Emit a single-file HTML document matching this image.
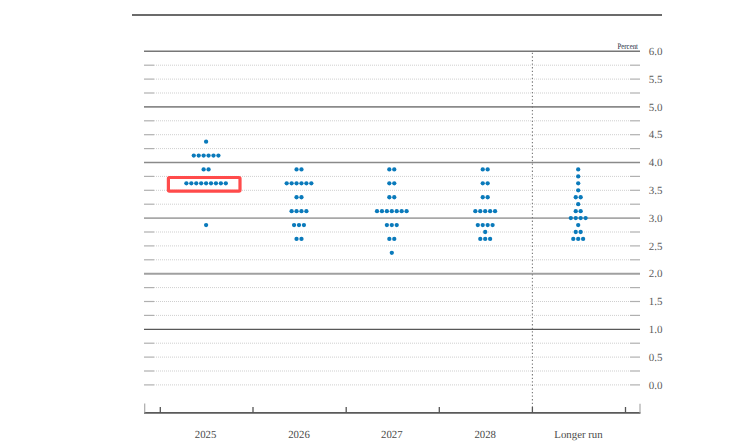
<!DOCTYPE html>
<html><head><meta charset="utf-8"><style>
html,body{margin:0;padding:0;background:#fff;width:750px;height:448px;overflow:hidden;position:relative}
text{font-family:"Liberation Serif",serif;text-rendering:geometricPrecision}
.yl{font-size:11px;fill:#5c5c5c}
.xl{font-size:10.8px;fill:#4a4a4a}
.pc{font-size:8.3px;fill:#222a40}
</style></head><body>
<svg width="750" height="448" viewBox="0 0 750 448" style="position:absolute;left:0;top:0">
<rect x="132" y="14" width="530" height="2" fill="#6b6b6b"/>
<line x1="144" y1="51.30" x2="640" y2="51.30" stroke="#777" stroke-width="1.5"/>
<line x1="144" y1="65.20" x2="154" y2="65.20" stroke="#b0b0b0" stroke-width="1.2"/>
<line x1="630" y1="65.20" x2="640" y2="65.20" stroke="#b0b0b0" stroke-width="1.2"/>
<line x1="154" y1="65.20" x2="630" y2="65.20" stroke="#cfcfcf" stroke-width="1" stroke-dasharray="1 1"/>
<line x1="144" y1="79.10" x2="154" y2="79.10" stroke="#b0b0b0" stroke-width="1.2"/>
<line x1="630" y1="79.10" x2="640" y2="79.10" stroke="#b0b0b0" stroke-width="1.2"/>
<line x1="154" y1="79.10" x2="630" y2="79.10" stroke="#cfcfcf" stroke-width="1" stroke-dasharray="1 1"/>
<line x1="144" y1="93.00" x2="154" y2="93.00" stroke="#b0b0b0" stroke-width="1.2"/>
<line x1="630" y1="93.00" x2="640" y2="93.00" stroke="#b0b0b0" stroke-width="1.2"/>
<line x1="154" y1="93.00" x2="630" y2="93.00" stroke="#cfcfcf" stroke-width="1" stroke-dasharray="1 1"/>
<line x1="144" y1="106.90" x2="640" y2="106.90" stroke="#8a8a8a" stroke-width="1.7"/>
<line x1="144" y1="120.80" x2="154" y2="120.80" stroke="#b0b0b0" stroke-width="1.2"/>
<line x1="630" y1="120.80" x2="640" y2="120.80" stroke="#b0b0b0" stroke-width="1.2"/>
<line x1="154" y1="120.80" x2="630" y2="120.80" stroke="#cfcfcf" stroke-width="1" stroke-dasharray="1 1"/>
<line x1="144" y1="134.70" x2="154" y2="134.70" stroke="#b0b0b0" stroke-width="1.2"/>
<line x1="630" y1="134.70" x2="640" y2="134.70" stroke="#b0b0b0" stroke-width="1.2"/>
<line x1="154" y1="134.70" x2="630" y2="134.70" stroke="#cfcfcf" stroke-width="1" stroke-dasharray="1 1"/>
<line x1="144" y1="148.60" x2="154" y2="148.60" stroke="#b0b0b0" stroke-width="1.2"/>
<line x1="630" y1="148.60" x2="640" y2="148.60" stroke="#b0b0b0" stroke-width="1.2"/>
<line x1="154" y1="148.60" x2="630" y2="148.60" stroke="#cfcfcf" stroke-width="1" stroke-dasharray="1 1"/>
<line x1="144" y1="162.50" x2="640" y2="162.50" stroke="#8a8a8a" stroke-width="1.7"/>
<line x1="144" y1="176.40" x2="154" y2="176.40" stroke="#b0b0b0" stroke-width="1.2"/>
<line x1="630" y1="176.40" x2="640" y2="176.40" stroke="#b0b0b0" stroke-width="1.2"/>
<line x1="154" y1="176.40" x2="630" y2="176.40" stroke="#cfcfcf" stroke-width="1" stroke-dasharray="1 1"/>
<line x1="144" y1="190.30" x2="154" y2="190.30" stroke="#b0b0b0" stroke-width="1.2"/>
<line x1="630" y1="190.30" x2="640" y2="190.30" stroke="#b0b0b0" stroke-width="1.2"/>
<line x1="154" y1="190.30" x2="630" y2="190.30" stroke="#cfcfcf" stroke-width="1" stroke-dasharray="1 1"/>
<line x1="144" y1="204.20" x2="154" y2="204.20" stroke="#b0b0b0" stroke-width="1.2"/>
<line x1="630" y1="204.20" x2="640" y2="204.20" stroke="#b0b0b0" stroke-width="1.2"/>
<line x1="154" y1="204.20" x2="630" y2="204.20" stroke="#cfcfcf" stroke-width="1" stroke-dasharray="1 1"/>
<line x1="144" y1="218.10" x2="640" y2="218.10" stroke="#a8a8a8" stroke-width="1.8"/>
<line x1="144" y1="232.00" x2="154" y2="232.00" stroke="#b0b0b0" stroke-width="1.2"/>
<line x1="630" y1="232.00" x2="640" y2="232.00" stroke="#b0b0b0" stroke-width="1.2"/>
<line x1="154" y1="232.00" x2="630" y2="232.00" stroke="#cfcfcf" stroke-width="1" stroke-dasharray="1 1"/>
<line x1="144" y1="245.90" x2="154" y2="245.90" stroke="#b0b0b0" stroke-width="1.2"/>
<line x1="630" y1="245.90" x2="640" y2="245.90" stroke="#b0b0b0" stroke-width="1.2"/>
<line x1="154" y1="245.90" x2="630" y2="245.90" stroke="#cfcfcf" stroke-width="1" stroke-dasharray="1 1"/>
<line x1="144" y1="259.80" x2="154" y2="259.80" stroke="#b0b0b0" stroke-width="1.2"/>
<line x1="630" y1="259.80" x2="640" y2="259.80" stroke="#b0b0b0" stroke-width="1.2"/>
<line x1="154" y1="259.80" x2="630" y2="259.80" stroke="#cfcfcf" stroke-width="1" stroke-dasharray="1 1"/>
<line x1="144" y1="273.70" x2="640" y2="273.70" stroke="#a0a0a0" stroke-width="1.9"/>
<line x1="144" y1="287.60" x2="154" y2="287.60" stroke="#b0b0b0" stroke-width="1.2"/>
<line x1="630" y1="287.60" x2="640" y2="287.60" stroke="#b0b0b0" stroke-width="1.2"/>
<line x1="154" y1="287.60" x2="630" y2="287.60" stroke="#cfcfcf" stroke-width="1" stroke-dasharray="1 1"/>
<line x1="144" y1="301.50" x2="154" y2="301.50" stroke="#b0b0b0" stroke-width="1.2"/>
<line x1="630" y1="301.50" x2="640" y2="301.50" stroke="#b0b0b0" stroke-width="1.2"/>
<line x1="154" y1="301.50" x2="630" y2="301.50" stroke="#cfcfcf" stroke-width="1" stroke-dasharray="1 1"/>
<line x1="144" y1="315.40" x2="154" y2="315.40" stroke="#b0b0b0" stroke-width="1.2"/>
<line x1="630" y1="315.40" x2="640" y2="315.40" stroke="#b0b0b0" stroke-width="1.2"/>
<line x1="154" y1="315.40" x2="630" y2="315.40" stroke="#cfcfcf" stroke-width="1" stroke-dasharray="1 1"/>
<line x1="144" y1="329.30" x2="640" y2="329.30" stroke="#585858" stroke-width="1.3"/>
<line x1="144" y1="343.20" x2="154" y2="343.20" stroke="#b0b0b0" stroke-width="1.2"/>
<line x1="630" y1="343.20" x2="640" y2="343.20" stroke="#b0b0b0" stroke-width="1.2"/>
<line x1="154" y1="343.20" x2="630" y2="343.20" stroke="#cfcfcf" stroke-width="1" stroke-dasharray="1 1"/>
<line x1="144" y1="357.10" x2="154" y2="357.10" stroke="#b0b0b0" stroke-width="1.2"/>
<line x1="630" y1="357.10" x2="640" y2="357.10" stroke="#b0b0b0" stroke-width="1.2"/>
<line x1="154" y1="357.10" x2="630" y2="357.10" stroke="#cfcfcf" stroke-width="1" stroke-dasharray="1 1"/>
<line x1="144" y1="371.00" x2="154" y2="371.00" stroke="#b0b0b0" stroke-width="1.2"/>
<line x1="630" y1="371.00" x2="640" y2="371.00" stroke="#b0b0b0" stroke-width="1.2"/>
<line x1="154" y1="371.00" x2="630" y2="371.00" stroke="#cfcfcf" stroke-width="1" stroke-dasharray="1 1"/>
<line x1="144" y1="384.90" x2="154" y2="384.90" stroke="#b0b0b0" stroke-width="1.2"/>
<line x1="630" y1="384.90" x2="640" y2="384.90" stroke="#b0b0b0" stroke-width="1.2"/>
<line x1="154" y1="384.90" x2="630" y2="384.90" stroke="#cfcfcf" stroke-width="1" stroke-dasharray="1 1"/>
<line x1="144" y1="412.8" x2="640.5" y2="412.8" stroke="#5a5a5a" stroke-width="1.7"/>
<line x1="144.7" y1="403.4" x2="144.7" y2="412.8" stroke="#aaaaaa" stroke-width="1.2"/>
<line x1="640" y1="403.7" x2="640" y2="412.8" stroke="#aaaaaa" stroke-width="1.2"/>
<line x1="160.3" y1="407" x2="160.3" y2="412.8" stroke="#555" stroke-width="1.3"/>
<line x1="253.0" y1="407" x2="253.0" y2="412.8" stroke="#555" stroke-width="1.3"/>
<line x1="346.2" y1="407" x2="346.2" y2="412.8" stroke="#555" stroke-width="1.3"/>
<line x1="439.3" y1="407" x2="439.3" y2="412.8" stroke="#555" stroke-width="1.3"/>
<line x1="532.4" y1="407" x2="532.4" y2="412.8" stroke="#555" stroke-width="1.3"/>
<line x1="625.5" y1="407" x2="625.5" y2="412.8" stroke="#555" stroke-width="1.3"/>
<line x1="532.4" y1="52.8" x2="532.4" y2="407" stroke="#777" stroke-width="1.1" stroke-dasharray="1.3 2.27"/>
<rect x="168.4" y="177.5" width="71.6" height="13.6" rx="1" fill="none" stroke="#ff4b4b" stroke-width="3.2"/>
<circle cx="206.10" cy="141.65" r="2.15" fill="#0a7abb"/>
<circle cx="193.78" cy="155.55" r="2.15" fill="#0a7abb"/>
<circle cx="198.70" cy="155.55" r="2.15" fill="#0a7abb"/>
<circle cx="203.63" cy="155.55" r="2.15" fill="#0a7abb"/>
<circle cx="208.56" cy="155.55" r="2.15" fill="#0a7abb"/>
<circle cx="213.50" cy="155.55" r="2.15" fill="#0a7abb"/>
<circle cx="218.42" cy="155.55" r="2.15" fill="#0a7abb"/>
<circle cx="203.63" cy="169.45" r="2.15" fill="#0a7abb"/>
<circle cx="208.56" cy="169.45" r="2.15" fill="#0a7abb"/>
<circle cx="186.38" cy="183.35" r="2.15" fill="#0a7abb"/>
<circle cx="191.31" cy="183.35" r="2.15" fill="#0a7abb"/>
<circle cx="196.24" cy="183.35" r="2.15" fill="#0a7abb"/>
<circle cx="201.17" cy="183.35" r="2.15" fill="#0a7abb"/>
<circle cx="206.10" cy="183.35" r="2.15" fill="#0a7abb"/>
<circle cx="211.03" cy="183.35" r="2.15" fill="#0a7abb"/>
<circle cx="215.96" cy="183.35" r="2.15" fill="#0a7abb"/>
<circle cx="220.89" cy="183.35" r="2.15" fill="#0a7abb"/>
<circle cx="225.82" cy="183.35" r="2.15" fill="#0a7abb"/>
<circle cx="206.10" cy="225.05" r="2.15" fill="#0a7abb"/>
<circle cx="296.54" cy="169.45" r="2.15" fill="#0a7abb"/>
<circle cx="301.46" cy="169.45" r="2.15" fill="#0a7abb"/>
<circle cx="286.68" cy="183.35" r="2.15" fill="#0a7abb"/>
<circle cx="291.61" cy="183.35" r="2.15" fill="#0a7abb"/>
<circle cx="296.54" cy="183.35" r="2.15" fill="#0a7abb"/>
<circle cx="301.46" cy="183.35" r="2.15" fill="#0a7abb"/>
<circle cx="306.39" cy="183.35" r="2.15" fill="#0a7abb"/>
<circle cx="311.32" cy="183.35" r="2.15" fill="#0a7abb"/>
<circle cx="296.54" cy="197.25" r="2.15" fill="#0a7abb"/>
<circle cx="301.46" cy="197.25" r="2.15" fill="#0a7abb"/>
<circle cx="291.61" cy="211.15" r="2.15" fill="#0a7abb"/>
<circle cx="296.54" cy="211.15" r="2.15" fill="#0a7abb"/>
<circle cx="301.46" cy="211.15" r="2.15" fill="#0a7abb"/>
<circle cx="306.39" cy="211.15" r="2.15" fill="#0a7abb"/>
<circle cx="294.07" cy="225.05" r="2.15" fill="#0a7abb"/>
<circle cx="299.00" cy="225.05" r="2.15" fill="#0a7abb"/>
<circle cx="303.93" cy="225.05" r="2.15" fill="#0a7abb"/>
<circle cx="296.54" cy="238.95" r="2.15" fill="#0a7abb"/>
<circle cx="301.46" cy="238.95" r="2.15" fill="#0a7abb"/>
<circle cx="389.34" cy="169.45" r="2.15" fill="#0a7abb"/>
<circle cx="394.26" cy="169.45" r="2.15" fill="#0a7abb"/>
<circle cx="389.34" cy="183.35" r="2.15" fill="#0a7abb"/>
<circle cx="394.26" cy="183.35" r="2.15" fill="#0a7abb"/>
<circle cx="389.34" cy="197.25" r="2.15" fill="#0a7abb"/>
<circle cx="394.26" cy="197.25" r="2.15" fill="#0a7abb"/>
<circle cx="377.01" cy="211.15" r="2.15" fill="#0a7abb"/>
<circle cx="381.94" cy="211.15" r="2.15" fill="#0a7abb"/>
<circle cx="386.87" cy="211.15" r="2.15" fill="#0a7abb"/>
<circle cx="391.80" cy="211.15" r="2.15" fill="#0a7abb"/>
<circle cx="396.73" cy="211.15" r="2.15" fill="#0a7abb"/>
<circle cx="401.66" cy="211.15" r="2.15" fill="#0a7abb"/>
<circle cx="406.59" cy="211.15" r="2.15" fill="#0a7abb"/>
<circle cx="386.87" cy="225.05" r="2.15" fill="#0a7abb"/>
<circle cx="391.80" cy="225.05" r="2.15" fill="#0a7abb"/>
<circle cx="396.73" cy="225.05" r="2.15" fill="#0a7abb"/>
<circle cx="389.34" cy="238.95" r="2.15" fill="#0a7abb"/>
<circle cx="394.26" cy="238.95" r="2.15" fill="#0a7abb"/>
<circle cx="391.80" cy="252.85" r="2.15" fill="#0a7abb"/>
<circle cx="482.74" cy="169.45" r="2.15" fill="#0a7abb"/>
<circle cx="487.66" cy="169.45" r="2.15" fill="#0a7abb"/>
<circle cx="482.74" cy="183.35" r="2.15" fill="#0a7abb"/>
<circle cx="487.66" cy="183.35" r="2.15" fill="#0a7abb"/>
<circle cx="482.74" cy="197.25" r="2.15" fill="#0a7abb"/>
<circle cx="487.66" cy="197.25" r="2.15" fill="#0a7abb"/>
<circle cx="475.34" cy="211.15" r="2.15" fill="#0a7abb"/>
<circle cx="480.27" cy="211.15" r="2.15" fill="#0a7abb"/>
<circle cx="485.20" cy="211.15" r="2.15" fill="#0a7abb"/>
<circle cx="490.13" cy="211.15" r="2.15" fill="#0a7abb"/>
<circle cx="495.06" cy="211.15" r="2.15" fill="#0a7abb"/>
<circle cx="477.81" cy="225.05" r="2.15" fill="#0a7abb"/>
<circle cx="482.74" cy="225.05" r="2.15" fill="#0a7abb"/>
<circle cx="487.66" cy="225.05" r="2.15" fill="#0a7abb"/>
<circle cx="492.59" cy="225.05" r="2.15" fill="#0a7abb"/>
<circle cx="485.20" cy="232.00" r="2.15" fill="#0a7abb"/>
<circle cx="480.27" cy="238.95" r="2.15" fill="#0a7abb"/>
<circle cx="485.20" cy="238.95" r="2.15" fill="#0a7abb"/>
<circle cx="490.13" cy="238.95" r="2.15" fill="#0a7abb"/>
<circle cx="578.20" cy="169.45" r="2.15" fill="#0a7abb"/>
<circle cx="578.20" cy="176.40" r="2.15" fill="#0a7abb"/>
<circle cx="578.20" cy="183.35" r="2.15" fill="#0a7abb"/>
<circle cx="578.20" cy="190.30" r="2.15" fill="#0a7abb"/>
<circle cx="575.74" cy="197.25" r="2.15" fill="#0a7abb"/>
<circle cx="580.67" cy="197.25" r="2.15" fill="#0a7abb"/>
<circle cx="578.20" cy="204.20" r="2.15" fill="#0a7abb"/>
<circle cx="575.74" cy="211.15" r="2.15" fill="#0a7abb"/>
<circle cx="580.67" cy="211.15" r="2.15" fill="#0a7abb"/>
<circle cx="570.81" cy="218.10" r="2.15" fill="#0a7abb"/>
<circle cx="575.74" cy="218.10" r="2.15" fill="#0a7abb"/>
<circle cx="580.67" cy="218.10" r="2.15" fill="#0a7abb"/>
<circle cx="585.60" cy="218.10" r="2.15" fill="#0a7abb"/>
<circle cx="578.20" cy="225.05" r="2.15" fill="#0a7abb"/>
<circle cx="575.74" cy="232.00" r="2.15" fill="#0a7abb"/>
<circle cx="580.67" cy="232.00" r="2.15" fill="#0a7abb"/>
<circle cx="573.27" cy="238.95" r="2.15" fill="#0a7abb"/>
<circle cx="578.20" cy="238.95" r="2.15" fill="#0a7abb"/>
<circle cx="583.13" cy="238.95" r="2.15" fill="#0a7abb"/>
<text x="648.8" y="55.00" class="yl">6.0</text>
<text x="648.8" y="82.80" class="yl">5.5</text>
<text x="648.8" y="110.60" class="yl">5.0</text>
<text x="648.8" y="138.40" class="yl">4.5</text>
<text x="648.8" y="166.20" class="yl">4.0</text>
<text x="648.8" y="194.00" class="yl">3.5</text>
<text x="648.8" y="221.80" class="yl">3.0</text>
<text x="648.8" y="249.60" class="yl">2.5</text>
<text x="648.8" y="277.40" class="yl">2.0</text>
<text x="648.8" y="305.20" class="yl">1.5</text>
<text x="648.8" y="333.00" class="yl">1.0</text>
<text x="648.8" y="360.80" class="yl">0.5</text>
<text x="648.8" y="388.60" class="yl">0.0</text>
<text x="617.5" y="48.7" class="pc" textLength="20.5" lengthAdjust="spacingAndGlyphs">Percent</text>
<text x="205.6" y="437.8" class="xl" text-anchor="middle">2025</text>
<text x="299" y="437.8" class="xl" text-anchor="middle">2026</text>
<text x="391.8" y="437.8" class="xl" text-anchor="middle">2027</text>
<text x="485.2" y="437.8" class="xl" text-anchor="middle">2028</text>
<text x="578.5" y="437.8" class="xl" text-anchor="middle">Longer run</text>
</svg>
</body></html>
